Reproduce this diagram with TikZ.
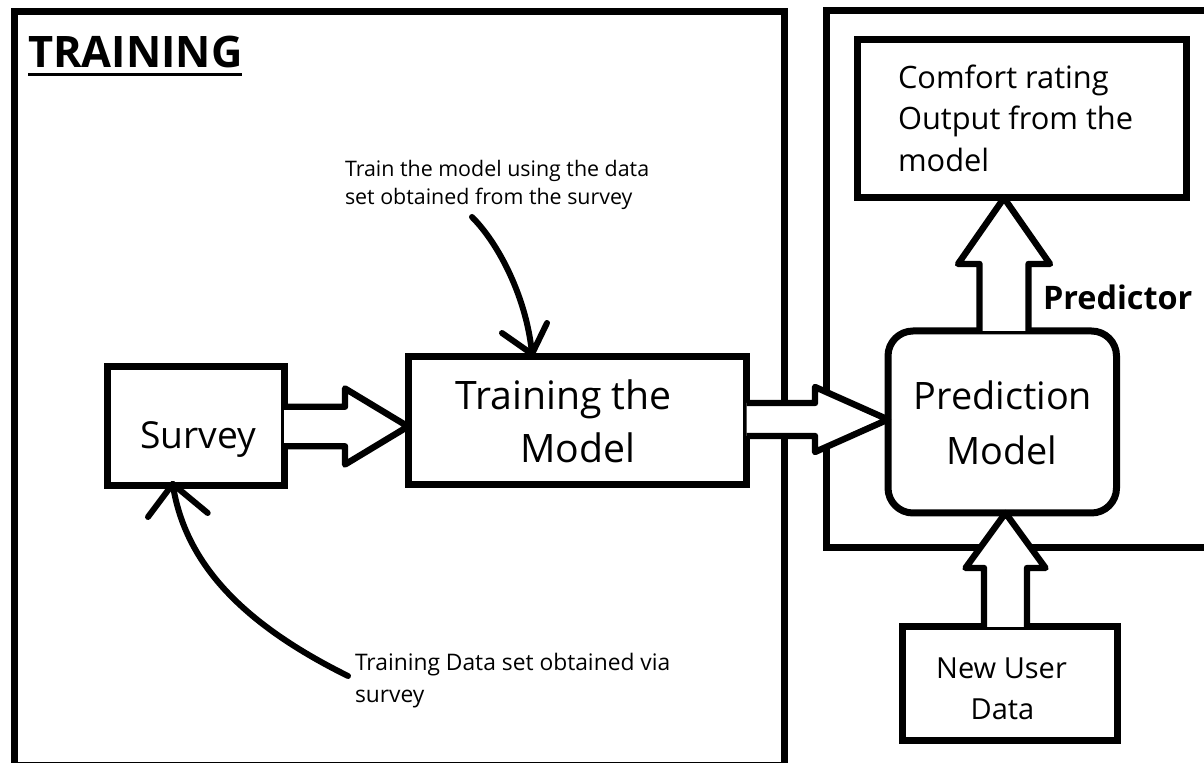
\documentclass[tikz,border=0pt]{standalone}
\usepackage{fontspec}
\setmainfont{Open Sans}
\usetikzlibrary{calc,fit}
\newcommand\fsz[2]{\fontsize{#1}{#2}\selectfont}
\begin{document}
\begin{tikzpicture}[x=0.5pt,y=-0.5pt,
  bigbox/.style={draw, line width=3.5pt},
  box/.style={draw, line width=3.5pt, inner sep=0pt, outer sep=0pt},
  hollow/.style={draw, fill=white, line width=3.2pt, line join=round},
  curvy/.style={draw, line width=3pt, line cap=round},
  txt/.style={inner sep=0pt, outer sep=0pt}]
\useasboundingbox (0,0) rectangle (1204,763);
\fill[white] (0,0) rectangle (1204,763);
% frames
\draw[bigbox] (14.5,12) rectangle (784.5,765);
\draw[bigbox] (826,11) rectangle (1240,548);
% boxes
\node[box, fit={(107,367) (284,486)}] (survey) {};
\node[box, fit={(408,357) (746.5,485)}] (train) {};
\node[box, rounded corners=12.5pt, fit={(888,331) (1116.5,513)}] (pred) {};
\node[box, fit={(857.5,39.5) (1186.5,198)}] (comfort) {};
\node[box, fit={(902.5,627) (1117,740)}] (nud) {};
% texts
\node[txt, anchor=base west, font=\bfseries\fsz{21.7}{26}] (title) at (28,68) {TRAINING};
\draw[line width=1.5pt] ([yshift=-3.5pt]title.base west) -- ([yshift=-3.5pt]title.base east);
\node[txt, anchor=base, font=\fsz{18.6}{22}] (surveylbl) at (198.5,449) {Survey};
\node[txt, anchor=base, font=\fsz{19.6}{24}] (trainlblA) at (563.5,410) {Training the};
\node[txt, anchor=base, font=\fsz{19.6}{24}] (trainlblB) at (577.5,463) {Model};
\node[txt, anchor=base, font=\fsz{18.9}{23}] (predlblA) at (1003,410) {Prediction};
\node[txt, anchor=base, font=\fsz{18.9}{23}] (predlblB) at (1001.5,465) {Model};
\node[txt, anchor=base west, font=\fsz{15.4}{19}] (comfA) at (898,89) {Comfort rating};
\node[txt, anchor=base west, font=\fsz{15.4}{19}] (comfB) at (898,130) {Output from the};
\node[txt, anchor=base west, font=\fsz{15.4}{19}] (comfC) at (898,172) {model};
\node[txt, anchor=base west, font=\bfseries\fsz{16.2}{20}] (predictor) at (1043,310) {Predictor};
\node[txt, anchor=base, font=\fsz{14.5}{17}] (nudA) at (1001.5,678) {New User};
\node[txt, anchor=base, font=\fsz{14.5}{17}] (nudB) at (1002.5,719) {Data};
\node[txt, anchor=base west, font=\fsz{10.7}{13}] (ann2a) at (345,177) {Train the model using the data};
\node[txt, anchor=base west, font=\fsz{10.7}{13}] (ann2b) at (345,205) {set obtained from the survey};
\node[txt, anchor=base west, font=\fsz{11.4}{14}] (ann1a) at (355,670) {Training Data set obtained via};
\node[txt, anchor=base west, font=\fsz{11.4}{14}] (ann1b) at (355,703) {survey};
% hollow arrows
\path[hollow] ($(survey.east)+(0,-19.75)$) -- ($(survey.east)+(61,-19.75)$) -- ($(survey.east)+(61,-38)$)
  -- (survey.east -| train.west) -- ($(survey.east)+(61,38)$) -- ($(survey.east)+(61,19.75)$) -- ($(survey.east)+(0,19.75)$);
\coordinate (a2) at ($(train.east)+(0,-1.5)$);
\path[hollow] ($(a2)+(0,-16.5)$) -- ($(a2)+(68.5,-16.5)$) -- ($(a2)+(68.5,-32.5)$)
  -- (a2 -| pred.west) -- ($(a2)+(68.5,32.5)$) -- ($(a2)+(68.5,16.5)$) -- ($(a2)+(0,16.5)$);
\coordinate (a3) at ($(pred.north)+(1.75,0)$);
\path[hollow] ($(a3)+(-24.5,0)$) -- ($(a3)+(-24.5,-67)$) -- ($(a3)+(-46,-67)$)
  -- (a3 |- comfort.south) -- ($(a3)+(46,-67)$) -- ($(a3)+(24.5,-67)$) -- ($(a3)+(24.5,0)$);
\coordinate (a4) at ($(nud.north)+(-4.25,0)$);
\path[hollow] ($(a4)+(-21.5,0)$) -- ($(a4)+(-21.5,-59)$) -- ($(a4)+(-40,-59)$)
  -- (a4 |- pred.south) -- ($(a4)+(40,-59)$) -- ($(a4)+(21.5,-59)$) -- ($(a4)+(21.5,0)$);
% curved annotation arrows
\coordinate (s1) at ($(ann1a.base west)+(-7,6)$);
\coordinate (t1) at ($(survey.south west)+(65.7,-2)$);
\draw[curvy] (s1) .. controls (245,625) and (185,565) .. (t1);
\draw[curvy] (t1) -- ++(-24.7,33);
\draw[curvy] (t1) -- ++(35,29);
\coordinate (s2) at ($(ann2b.base west)+(127,12)$);
\coordinate (t2) at ($(train.north west)+(124,-3)$);
\draw[curvy] (s2) .. controls (500,245) and (527,300) .. (t2);
\draw[curvy] (t2) -- ++(-30,-21);
\draw[curvy] (t2) -- ++(15,-31);
\end{tikzpicture}
\end{document}
